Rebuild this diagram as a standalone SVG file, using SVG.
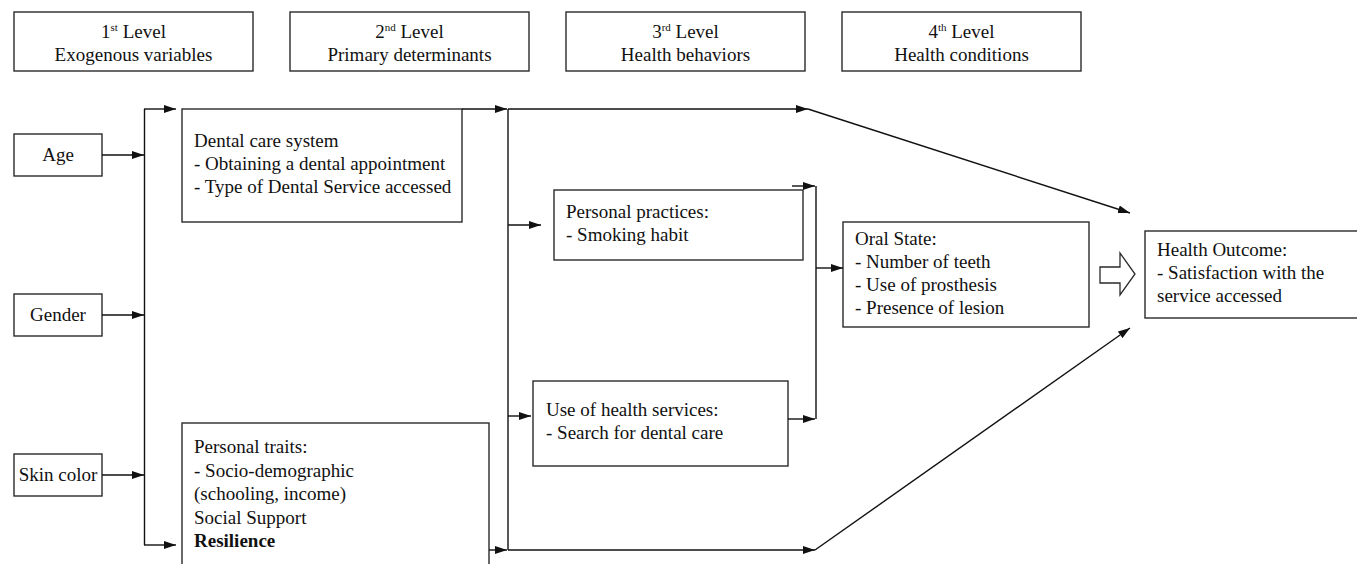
<svg xmlns="http://www.w3.org/2000/svg" width="1357" height="564" viewBox="0 0 1357 564">
<style>
.box{fill:#fff;stroke:#2a2a2a;stroke-width:1.4}
.ln{fill:none;stroke:#111;stroke-width:1.4}
.t{font-family:"Liberation Serif","Times New Roman",serif;font-size:19px;fill:#111}
.c{text-anchor:middle}
.b{font-weight:bold}
</style>
<defs>
<marker id="ah" markerUnits="userSpaceOnUse" markerWidth="12" markerHeight="8" viewBox="0 0 12 8" refX="12" refY="4" orient="auto">
<path d="M0,0 L12,4 L0,8 Z" fill="#111"/>
</marker>
</defs>
<rect width="1357" height="564" fill="#fff"/>

<g id="level1"><rect class="box" x="14" y="12" width="239" height="59"/><text class="t c" x="133.5" y="38">1<tspan font-size="11" dy="-7">st</tspan><tspan dy="7"> Level</tspan></text><text class="t c" x="133.5" y="61">Exogenous variables</text></g>
<g id="level2"><rect class="box" x="290" y="12" width="239" height="59"/><text class="t c" x="409.5" y="38">2<tspan font-size="11" dy="-7">nd</tspan><tspan dy="7"> Level</tspan></text><text class="t c" x="409.5" y="61">Primary determinants</text></g>
<g id="level3"><rect class="box" x="566" y="12" width="239" height="59"/><text class="t c" x="685.5" y="38">3<tspan font-size="11" dy="-7">rd</tspan><tspan dy="7"> Level</tspan></text><text class="t c" x="685.5" y="61">Health behaviors</text></g>
<g id="level4"><rect class="box" x="842" y="12" width="239" height="59"/><text class="t c" x="961.5" y="38">4<tspan font-size="11" dy="-7">th</tspan><tspan dy="7"> Level</tspan></text><text class="t c" x="961.5" y="61">Health conditions</text></g>

<g id="age"><rect class="box" x="14" y="134" width="88" height="42"/><text class="t c" x="58" y="161">Age</text></g>
<g id="gender"><rect class="box" x="14" y="294" width="88" height="42"/><text class="t c" x="58" y="321">Gender</text></g>
<g id="skin"><rect class="box" x="14" y="454" width="88" height="42"/><text class="t c" x="58" y="481">Skin color</text></g>

<g id="dental"><rect class="box" x="182" y="109" width="280" height="113"/>
<text class="t" x="194" y="147">Dental care system</text>
<text class="t" x="194" y="170">- Obtaining a dental appointment</text>
<text class="t" x="194" y="193">- Type of Dental Service accessed</text></g>

<g id="traits"><rect class="box" x="182" y="423" width="307" height="160"/>
<text class="t" x="194" y="453">Personal traits:</text>
<text class="t" x="194" y="476.5">- Socio-demographic</text>
<text class="t" x="194" y="500">(schooling, income)</text>
<text class="t" x="194" y="523.5">Social Support</text>
<text class="t b" x="194" y="547">Resilience</text></g>

<g id="practices"><rect class="box" x="554" y="190" width="249" height="70"/>
<text class="t" x="566" y="218">Personal practices:</text>
<text class="t" x="566" y="241">- Smoking habit</text></g>

<g id="services"><rect class="box" x="533" y="381" width="255" height="85"/>
<text class="t" x="546" y="416">Use of health services:</text>
<text class="t" x="546" y="439">- Search for dental care</text></g>

<g id="oral"><rect class="box" x="843" y="222" width="246" height="105"/>
<text class="t" x="855" y="245">Oral State:</text>
<text class="t" x="855" y="268">- Number of teeth</text>
<text class="t" x="855" y="291">- Use of prosthesis</text>
<text class="t" x="855" y="314">- Presence of lesion</text></g>

<g id="outcome"><rect class="box" x="1145" y="231" width="220" height="87"/>
<text class="t" x="1157" y="256">Health Outcome:</text>
<text class="t" x="1157" y="279">- Satisfaction with the</text>
<text class="t" x="1157" y="302">service accessed</text></g>

<g id="connectors">
<line class="ln" x1="102" y1="155" x2="144" y2="155" marker-end="url(#ah)"/>
<line class="ln" x1="102" y1="315" x2="144" y2="315" marker-end="url(#ah)"/>
<line class="ln" x1="102" y1="475" x2="144" y2="475" marker-end="url(#ah)"/>
<line class="ln" x1="144.5" y1="109" x2="144.5" y2="545"/>
<line class="ln" x1="144" y1="109" x2="176" y2="109" marker-end="url(#ah)"/>
<line class="ln" x1="144" y1="545" x2="176" y2="545" marker-end="url(#ah)"/>
<line class="ln" x1="462" y1="109" x2="507" y2="109" marker-end="url(#ah)"/>
<line class="ln" x1="508" y1="109" x2="508" y2="550"/>
<line class="ln" x1="508" y1="109" x2="808" y2="109" marker-end="url(#ah)"/>
<line class="ln" x1="808" y1="109" x2="1130" y2="213" marker-end="url(#ah)"/>
<line class="ln" x1="508" y1="225" x2="541" y2="225" marker-end="url(#ah)"/>
<line class="ln" x1="508" y1="416" x2="531" y2="416" marker-end="url(#ah)"/>
<line class="ln" x1="489" y1="550" x2="507" y2="550" marker-end="url(#ah)"/>
<line class="ln" x1="508" y1="550" x2="815" y2="550" marker-end="url(#ah)"/>
<line class="ln" x1="815" y1="550" x2="1130" y2="328" marker-end="url(#ah)"/>
<line class="ln" x1="792" y1="186" x2="815" y2="186" marker-end="url(#ah)"/>
<line class="ln" x1="816" y1="186" x2="816" y2="419"/>
<line class="ln" x1="788" y1="419" x2="815" y2="419" marker-end="url(#ah)"/>
<line class="ln" x1="816" y1="268" x2="843" y2="268" marker-end="url(#ah)"/>
<polygon points="1100,267 1120,267 1120,253 1135,274 1120,295 1120,283 1100,283" fill="#fff" stroke="#2a2a2a" stroke-width="1.3"/>
</g>
</svg>
